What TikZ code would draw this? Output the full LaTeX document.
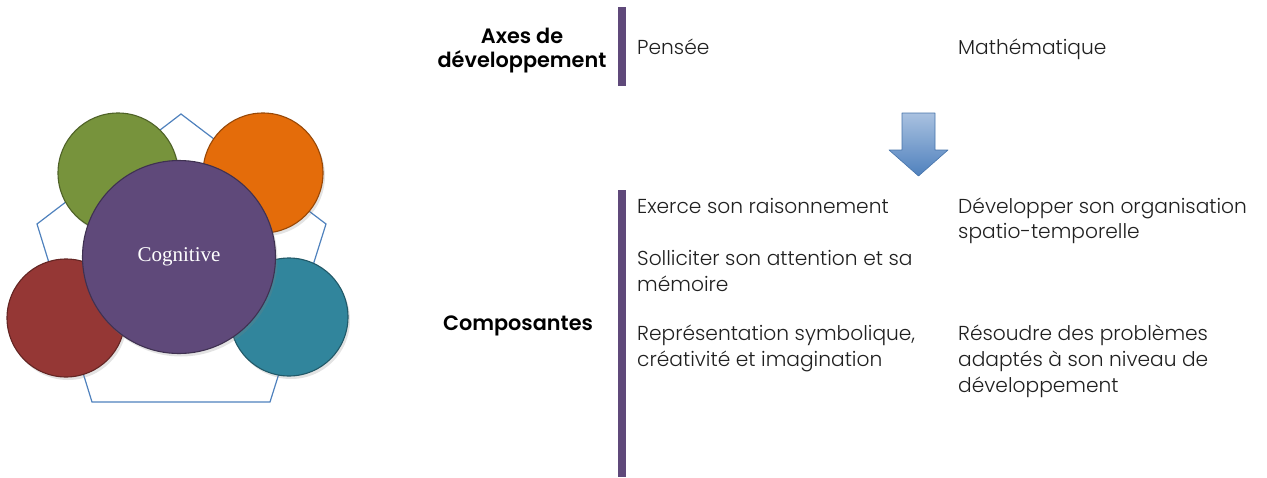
\documentclass[tikz,border=0pt]{standalone}
\usepackage{fontspec}
\setmainfont{Poppins}[UprightFont={* Light}, BoldFont={* SemiBold}]
\newfontfamily\cogfont{Liberation Serif}
\usetikzlibrary{shadows}
\definecolor{cgreen}{HTML}{77933C}\definecolor{cgreenD}{HTML}{4F6228}
\definecolor{corange}{HTML}{E46C0A}\definecolor{corangeD}{HTML}{984807}
\definecolor{cred}{HTML}{953735}\definecolor{credD}{HTML}{632523}
\definecolor{cteal}{HTML}{31859C}\definecolor{ctealD}{HTML}{215968}
\definecolor{cpurp}{HTML}{5F497A}\definecolor{cpurpD}{HTML}{3F3151}
\definecolor{cblue}{HTML}{4F81BD}\definecolor{cblueL}{HTML}{A9C1E0}
\definecolor{ctext}{HTML}{202020}
\begin{document}
\begin{tikzpicture}[x=1pt,y=-1pt,
  ball/.style={circle, inner sep=0pt, minimum size=#1, line width=1.1pt,
    drop shadow={opacity=0.22, shadow xshift=2pt, shadow yshift=-3pt}},
  txt/.style={anchor=base west, inner sep=0pt, font=\fontsize{20.2}{23}\selectfont, text=ctext},
  hdr/.style={anchor=base, inner sep=0pt, font=\fontsize{20.8}{23}\selectfont\bfseries, text=black},
  bar/.style={fill=cpurp, draw=none}]
\useasboundingbox (0,0) rectangle (1267,477);
% pentagon
\draw[cblue, line width=1.2pt, line join=miter] (181,114) -- (326,224) -- (270,402) -- (92,402) -- (37,224) -- cycle;
% circles
\node[ball=120pt, fill=cgreen, draw=cgreenD] (g) at (118,173) {};
\node[ball=120pt, fill=corange, draw=corangeD] (o) at (263,173) {};
\node[ball=118pt, fill=cred, draw=credD] (r) at (66,318) {};
\node[ball=118pt, fill=cteal, draw=ctealD] (t) at (289,317) {};
\node[ball=193pt, fill=cpurp, draw=cpurpD, text=white, font=\cogfont\fontsize{21}{24}\selectfont] (c) at (179,257) {Cognitive};
% bars
\fill[bar] (618,7) rectangle (626,86);
\fill[bar] (618,190) rectangle (626,477);
% arrow
\shade[top color=cblueL, bottom color=cblue, draw=cblue!90!black, line width=0.6pt, line join=round]
  (902,113) -- (935,113) -- (935,150) -- (948,150) -- (918.5,176) -- (889,150) -- (902,150) -- cycle;
% headers
\node[hdr] (h1) at (522,43) {Axes de};
\node[hdr] (h2) at (522,67) {développement};
\node[hdr] (h3) at (518,330) {Composantes};
% top row
\node[txt] (p) at (637,54) {Pensée};
\node[txt] (m) at (958,54) {Mathématique};
% components
\node[txt] (a1) at (637,213) {Exerce son raisonnement};
\node[txt] (a2) at (637,265) {Solliciter son attention et sa};
\node[txt] (a3) at (637,291) {mémoire};
\node[txt] (a4) at (637,340) {Représentation symbolique,};
\node[txt] (a5) at (637,366) {créativité et imagination};
\node[txt] (b1) at (958,213) {Développer son organisation};
\node[txt] (b2) at (958,238) {spatio-temporelle};
\node[txt] (b3) at (958,340) {Résoudre des problèmes};
\node[txt] (b4) at (958,366) {adaptés à son niveau de};
\node[txt] (b5) at (958,392) {développement};
\end{tikzpicture}
\end{document}
